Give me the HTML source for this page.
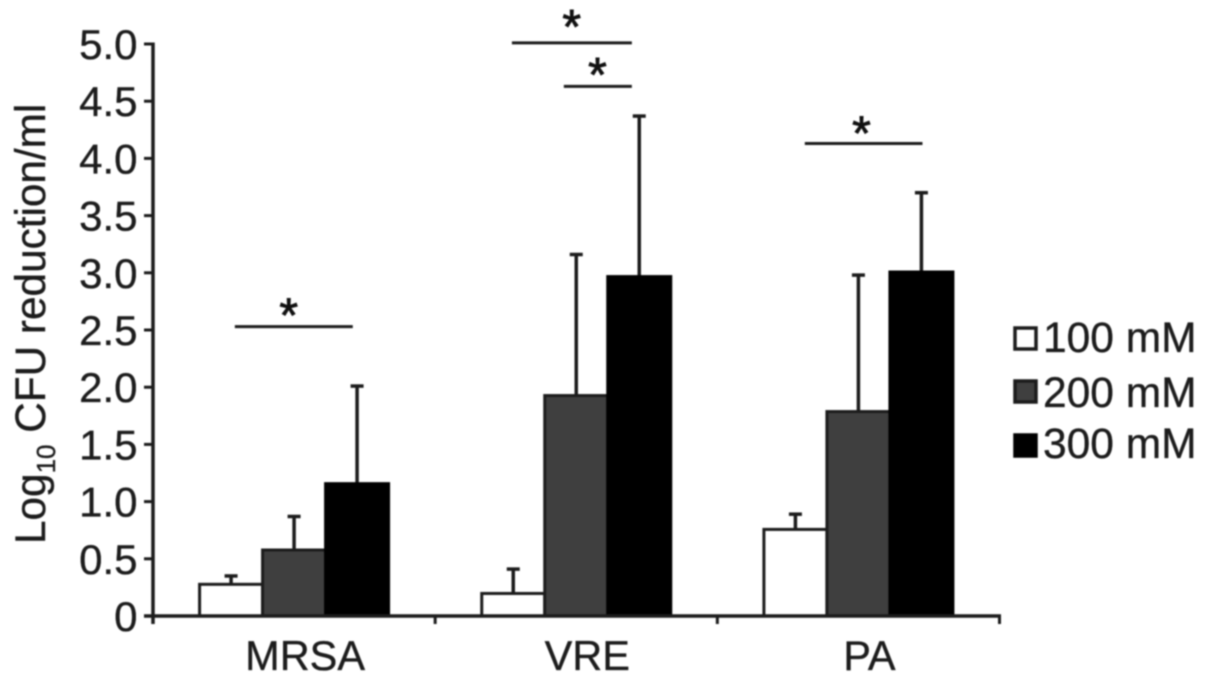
<!DOCTYPE html>
<html lang="en">
<head>
<meta charset="utf-8">
<title>Log10 CFU reduction per ml</title>
<style>
html,body{margin:0;padding:0;background:#fff;width:1205px;height:683px;overflow:hidden}
svg{display:block;filter:blur(0.7px)}
text{font-family:"Liberation Sans",sans-serif;fill:#1c1c1c;stroke:#1c1c1c;stroke-width:0.35px}
</style>
</head>
<body>
<svg id="chart" xmlns="http://www.w3.org/2000/svg" width="1205" height="683" viewBox="0 0 1205 683"></svg>
<script>
const categories = ['MRSA', 'VRE', 'PA'];
const seriesNames = ['100 mM', '200 mM', '300 mM'];
const seriesMeans = [
  [0.29, 0.21, 0.77],
  [0.59, 1.94, 1.80],
  [1.17, 2.98, 3.02]
];
const seriesErrorTops = [
  [0.35, 0.41, 0.89],
  [0.87, 3.16, 2.98],
  [2.01, 4.37, 3.70]
];
const yTicks = [0, 0.5, 1, 1.5, 2, 2.5, 3, 3.5, 4, 4.5, 5];
const yTickLabels = ['0', '0.5', '1.0', '1.5', '2.0', '2.5', '3.0', '3.5', '4.0', '4.5', '5.0'];
const sigStarts = [0.29, 1.272, 1.456, 2.31];
const sigEnds = [0.708, 1.697, 1.697, 2.727];
const sigLevels = [2.53, 5.01, 4.63, 4.13];
const sigStarPositions = [0.481, 1.484, 1.575, 2.511];
const sigStarLevels = [2.69, 5.21, 4.79, 4.28];

const NS = 'http://www.w3.org/2000/svg';
const svg = document.getElementById('chart');
const plot = { left: 153, right: 999.5, top: 44, bottom: 616 };
const yMax = 5;
const seriesFills = ['#ffffff', '#3f3f3f', '#000000'];
const barWidth = 63;
const barStroke = 3;
const ink = '#1c1c1c';

function yScale(v) {
  return plot.bottom - (v / yMax) * (plot.bottom - plot.top);
}
function xScale(c) {
  return plot.left + (c / categories.length) * (plot.right - plot.left);
}
function barLeft(catIndex, serIndex) {
  return xScale(catIndex + 0.5) + (serIndex - 1.5) * barWidth;
}
function make(tag, props, parent) {
  const el = document.createElementNS(NS, tag);
  Object.keys(props).forEach(function (k) { el.setAttribute(k, props[k]); });
  parent.appendChild(el);
  return el;
}

/* bars and error bars */
seriesNames.forEach(function (name, s) {
  categories.forEach(function (cat, c) {
    const x = barLeft(c, s);
    const cx = x + barWidth / 2;
    const stem = make('line', { x1: cx, x2: cx, y1: yScale(seriesMeans[s][c]) + 2, y2: yScale(seriesErrorTops[s][c]), stroke: ink, 'stroke-width': 3.5 }, svg);
    
    
    const cap = make('line', { x1: cx - 6.5, x2: cx + 6.5, y1: yScale(seriesErrorTops[s][c]), y2: yScale(seriesErrorTops[s][c]), stroke: ink, 'stroke-width': 3.5 }, svg);
    
    
    const top = yScale(seriesMeans[s][c]) + barStroke / 2;
    const bar = make('rect', { x: x, y: top, width: barWidth, height: plot.bottom - top, fill: seriesFills[s], stroke: s === 2 ? '#000' : ink, 'stroke-width': barStroke }, svg);
    
    
  });
});

/* y axis */
const yAxis = make('line', { x1: plot.left, x2: plot.left, y1: plot.top - 1.5, y2: plot.bottom + 8, stroke: ink, 'stroke-width': 3.5 }, svg);


yTicks.forEach(function (t, i) {
  const tick = make('line', { x1: plot.left - 9, x2: plot.left, y1: yScale(t), y2: yScale(t), stroke: ink, 'stroke-width': 3 }, svg);
  
  
  const label = make('text', { x: 137.5, y: yScale(t) + 15, 'text-anchor': 'end', 'font-size': 42 }, svg);
  label.textContent = yTickLabels[i];
  
  
});

/* x axis */
const xAxis = make('line', { x1: plot.left - 9, x2: plot.right + 1.5, y1: plot.bottom, y2: plot.bottom, stroke: ink, 'stroke-width': 3.5 }, svg);


categories.forEach(function (cat, c) {
  const tick = make('line', { x1: xScale(c + 1), x2: xScale(c + 1), y1: plot.bottom, y2: plot.bottom + 8, stroke: ink, 'stroke-width': 3 }, svg);
  
  
  const label = make('text', { x: xScale(c + 0.5) + 11, y: 670, 'text-anchor': 'middle', 'font-size': 41.5 }, svg);
  label.textContent = cat;
  
  
});

/* significance markers */
sigLevels.forEach(function (level, i) {
  const line = make('line', { x1: xScale(sigStarts[i]), x2: xScale(sigEnds[i]), y1: yScale(level), y2: yScale(level), stroke: ink, 'stroke-width': 3 }, svg);
  
  
  const star = make('text', { x: xScale(sigStarPositions[i]), y: yScale(sigStarLevels[i]) + 23, 'text-anchor': 'middle', 'font-size': 48, style: 'fill:#111;stroke:#111;stroke-width:0.9px' }, svg);
  star.textContent = '*';
  
  
});

/* legend */
const legendBoxTops = [328, 381, 435];
const legendBaselines = [352, 407, 458];
seriesNames.forEach(function (name, s) {
  const box = make('rect', { x: 1015, y: legendBoxTops[s], width: 21, height: 21, fill: seriesFills[s], stroke: s === 2 ? '#000' : ink, 'stroke-width': 3.5 }, svg);
  
  
  const label = make('text', { x: 1043, y: legendBaselines[s], 'font-size': 42.5 }, svg);
  label.textContent = name;
  
  
});

/* y axis title */
const yTitle = make('text', { transform: 'translate(45,544) rotate(-90)', 'font-size': 42.3 }, svg);


const titleStart = make('tspan', {}, yTitle);
titleStart.textContent = 'Log';
const titleSub = make('tspan', { dy: 10, 'font-size': 26 }, yTitle);
titleSub.textContent = '10';
const titleEnd = make('tspan', { dy: -10 }, yTitle);
titleEnd.textContent = ' CFU reduction/ml';
</script>
</body>
</html>
